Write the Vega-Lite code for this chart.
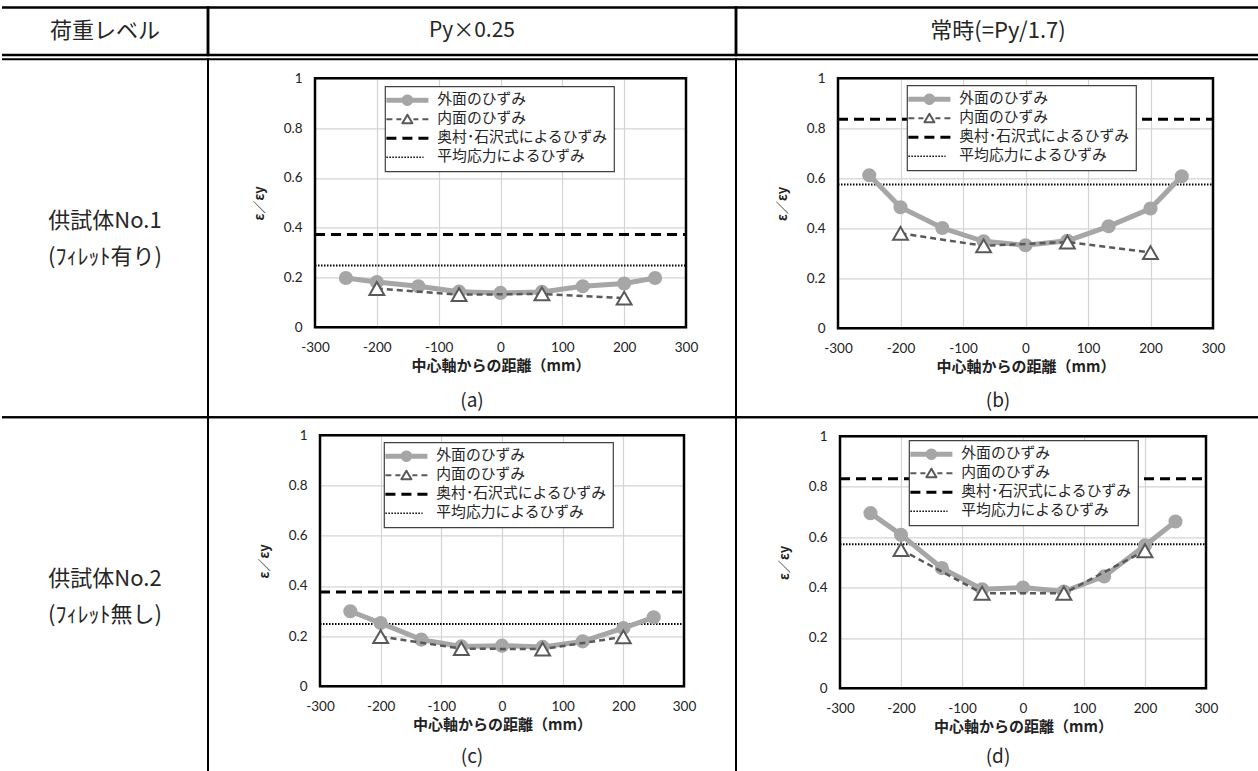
{
  "$schema": "https://vega.github.io/schema/vega-lite/v6.json",
  "padding": {"left": 0, "top": 5.5, "right": 0, "bottom": 0},
  "background": "white",
  "config": {"view": {"stroke": null}, "font": "Noto Sans CJK JP"},
  "datasets": {
    "hdr": [
      {"col": 0, "text": "荷重レベル"},
      {"col": 1, "text": "Py×0.25"},
      {"col": 2, "text": "常時(=Py/1.7)"}
    ],
    "lab": [
      {"row": 1, "text": "供試体No.1\n(ﾌｨﾚｯﾄ有り)"},
      {"row": 2, "text": "供試体No.2\n(ﾌｨﾚｯﾄ無し)"}
    ],
    "cap": [
      {"panel": "a", "text": "(a)"},
      {"panel": "b", "text": "(b)"},
      {"panel": "c", "text": "(c)"},
      {"panel": "d", "text": "(d)"}
    ],
    "ref": [
      {"panel": "a", "series": "奥村･石沢式によるひずみ", "y": 0.373},
      {"panel": "a", "series": "平均応力によるひずみ", "y": 0.248},
      {"panel": "b", "series": "奥村･石沢式によるひずみ", "y": 0.836},
      {"panel": "b", "series": "平均応力によるひずみ", "y": 0.575},
      {"panel": "c", "series": "奥村･石沢式によるひずみ", "y": 0.376},
      {"panel": "c", "series": "平均応力によるひずみ", "y": 0.248},
      {"panel": "d", "series": "奥村･石沢式によるひずみ", "y": 0.832},
      {"panel": "d", "series": "平均応力によるひずみ", "y": 0.572}
    ],
    "pts": [
      {"panel": "a", "series": "外面のひずみ", "x": -250, "y": 0.198},
      {"panel": "a", "series": "外面のひずみ", "x": -200, "y": 0.182},
      {"panel": "a", "series": "外面のひずみ", "x": -133, "y": 0.165},
      {"panel": "a", "series": "外面のひずみ", "x": -67, "y": 0.143},
      {"panel": "a", "series": "外面のひずみ", "x": 0, "y": 0.138},
      {"panel": "a", "series": "外面のひずみ", "x": 67, "y": 0.142},
      {"panel": "a", "series": "外面のひずみ", "x": 133, "y": 0.165},
      {"panel": "a", "series": "外面のひずみ", "x": 200, "y": 0.176},
      {"panel": "a", "series": "外面のひずみ", "x": 250, "y": 0.198},
      {"panel": "a", "series": "内面のひずみ", "x": -200, "y": 0.156},
      {"panel": "a", "series": "内面のひずみ", "x": -67, "y": 0.131},
      {"panel": "a", "series": "内面のひずみ", "x": 67, "y": 0.134},
      {"panel": "a", "series": "内面のひずみ", "x": 200, "y": 0.117},
      {"panel": "b", "series": "外面のひずみ", "x": -250, "y": 0.612},
      {"panel": "b", "series": "外面のひずみ", "x": -200, "y": 0.484},
      {"panel": "b", "series": "外面のひずみ", "x": -133, "y": 0.401},
      {"panel": "b", "series": "外面のひずみ", "x": -67, "y": 0.348},
      {"panel": "b", "series": "外面のひずみ", "x": 0, "y": 0.332},
      {"panel": "b", "series": "外面のひずみ", "x": 67, "y": 0.35},
      {"panel": "b", "series": "外面のひずみ", "x": 133, "y": 0.408},
      {"panel": "b", "series": "外面のひずみ", "x": 200, "y": 0.479},
      {"panel": "b", "series": "外面のひずみ", "x": 250, "y": 0.608},
      {"panel": "b", "series": "内面のひずみ", "x": -200, "y": 0.38},
      {"panel": "b", "series": "内面のひずみ", "x": -67, "y": 0.33},
      {"panel": "b", "series": "内面のひずみ", "x": 67, "y": 0.345},
      {"panel": "b", "series": "内面のひずみ", "x": 200, "y": 0.303},
      {"panel": "c", "series": "外面のひずみ", "x": -250, "y": 0.299},
      {"panel": "c", "series": "外面のひずみ", "x": -200, "y": 0.252},
      {"panel": "c", "series": "外面のひずみ", "x": -133, "y": 0.186},
      {"panel": "c", "series": "外面のひずみ", "x": -67, "y": 0.159},
      {"panel": "c", "series": "外面のひずみ", "x": 0, "y": 0.162},
      {"panel": "c", "series": "外面のひずみ", "x": 67, "y": 0.157},
      {"panel": "c", "series": "外面のひずみ", "x": 133, "y": 0.179},
      {"panel": "c", "series": "外面のひずみ", "x": 200, "y": 0.232},
      {"panel": "c", "series": "外面のひずみ", "x": 250, "y": 0.275},
      {"panel": "c", "series": "内面のひずみ", "x": -200, "y": 0.198},
      {"panel": "c", "series": "内面のひずみ", "x": -67, "y": 0.15},
      {"panel": "c", "series": "内面のひずみ", "x": 67, "y": 0.148},
      {"panel": "c", "series": "内面のひずみ", "x": 200, "y": 0.197},
      {"panel": "d", "series": "外面のひずみ", "x": -250, "y": 0.695},
      {"panel": "d", "series": "外面のひずみ", "x": -200, "y": 0.609},
      {"panel": "d", "series": "外面のひずみ", "x": -133, "y": 0.477},
      {"panel": "d", "series": "外面のひずみ", "x": -67, "y": 0.393},
      {"panel": "d", "series": "外面のひずみ", "x": 0, "y": 0.4},
      {"panel": "d", "series": "外面のひずみ", "x": 67, "y": 0.384},
      {"panel": "d", "series": "外面のひずみ", "x": 133, "y": 0.444},
      {"panel": "d", "series": "外面のひずみ", "x": 200, "y": 0.567},
      {"panel": "d", "series": "外面のひずみ", "x": 250, "y": 0.662},
      {"panel": "d", "series": "内面のひずみ", "x": -200, "y": 0.55},
      {"panel": "d", "series": "内面のひずみ", "x": -67, "y": 0.377},
      {"panel": "d", "series": "内面のひずみ", "x": 67, "y": 0.377},
      {"panel": "d", "series": "内面のひずみ", "x": 200, "y": 0.546}
    ]
  },
  "spacing": 1.8,
  "resolve": {"scale": {"color": "independent"}},
  "vconcat": [
    {
      "spacing": 0,
      "bounds": "flush",
      "hconcat": [
        {"width": 206, "height": 47.5, "view": {"stroke": "black", "strokeWidth": 2.5, "strokeDash": [459.5, 47.5]},
         "data": {"name": "hdr"}, "transform": [{"filter": "datum.col === 0"}],
         "mark": {"type": "text", "font": "Noto Sans CJK JP", "fontSize": 22, "color": "#262626"},
         "encoding": {"text": {"field": "text"}}},
        {"width": 528, "height": 47.5, "view": {"stroke": "black", "strokeWidth": 2.5},
         "data": {"name": "hdr"}, "transform": [{"filter": "datum.col === 1"}],
         "mark": {"type": "text", "font": "Noto Sans CJK JP", "fontSize": 21, "color": "#262626"},
         "encoding": {"text": {"field": "text"}}},
        {"width": 524, "height": 47.5, "view": {"stroke": "black", "strokeWidth": 2.5},
         "data": {"name": "hdr"}, "transform": [{"filter": "datum.col === 2"}],
         "mark": {"type": "text", "font": "Noto Sans CJK JP", "fontSize": 22, "color": "#262626"},
         "encoding": {"text": {"field": "text"}}}
      ]
    },
    {
      "columns": 3,
      "spacing": 0,
      "bounds": "flush",
      "resolve": {"scale": {"color": "independent"}},
      "concat": [
        {"width": 206, "height": 358, "view": {"stroke": "black", "strokeWidth": 2, "strokeDash": [770, 358]},
         "data": {"name": "lab"}, "transform": [{"filter": "datum.row === 1"}],
         "mark": {"type": "text", "font": "Noto Sans CJK JP", "fontSize": 22, "color": "#262626", "lineBreak": "\n", "lineHeight": 36, "dy": -17},
         "encoding": {"text": {"field": "text"}}},
        {
          "width": 528, "height": 358, "view": {"stroke": "black", "strokeWidth": 2},
          "resolve": {"axis": {"x": "independent", "y": "independent"}},
          "layer": [
            {"data": {"name": "ref"}, "transform": [{"filter": "datum.panel === 'a' && datum.series === '奥村･石沢式によるひずみ'"}],
             "mark": {"type": "rect", "filled": false, "stroke": "black", "strokeWidth": 2.5},
             "encoding": {
               "x": {"datum": -300, "type": "quantitative", "scale": {"domain": [-300, 300], "range": [107, 478], "nice": false, "zero": false},
                     "axis": {"orient": "top", "values": [-200, -100, 0, 100, 200], "grid": true, "gridColor": "#d4d4d4", "gridWidth": 1.2, "labels": false, "ticks": false, "domain": false, "title": null}},
               "x2": {"datum": 300},
               "y": {"datum": 0, "type": "quantitative", "scale": {"domain": [0, 1], "range": [268, 19], "nice": false, "zero": false},
                     "axis": {"orient": "left", "offset": -107, "values": [0, 0.2, 0.4, 0.6, 0.8, 1], "labelExpr": "'' + datum.value", "grid": true, "gridColor": "#d4d4d4", "gridWidth": 1.2, "ticks": false, "domain": false, "labelFont": "Lato", "labelFontSize": 13.5, "labelColor": "#222", "labelPadding": 13, "title": "ε／εy", "titleFont": "Noto Sans CJK JP", "titleFontSize": 13, "titleFontWeight": "bold", "titleColor": "#222", "titlePadding": 17}},
               "y2": {"datum": 1}
             }},
            {"data": {"name": "ref"}, "transform": [{"filter": "datum.panel === 'a' && datum.series === '平均応力によるひずみ'"}],
             "mark": {"type": "rule", "stroke": "black", "strokeWidth": 2, "strokeDash": [1.5, 1.5]},
             "encoding": {"x": {"datum": -300, "type": "quantitative", "axis": null}, "x2": {"datum": 300}, "y": {"field": "y", "type": "quantitative", "axis": null}}},
            {"data": {"name": "ref"}, "transform": [{"filter": "datum.panel === 'a' && datum.series === '奥村･石沢式によるひずみ'"}],
             "mark": {"type": "rule", "stroke": "black", "strokeWidth": 3, "strokeDash": [10, 6]},
             "encoding": {"x": {"datum": -300, "type": "quantitative", "axis": null}, "x2": {"datum": 300}, "y": {"field": "y", "type": "quantitative", "axis": null}}},
            {"data": {"name": "pts"}, "transform": [{"filter": "datum.panel === 'a' && datum.series === '外面のひずみ'"}],
             "mark": {"type": "line", "strokeWidth": 5},
             "encoding": {
               "x": {"field": "x", "type": "quantitative", "axis": null},
               "y": {"field": "y", "type": "quantitative", "axis": null},
               "color": {"field": "series", "type": "nominal",
                 "scale": {"domain": ["外面のひずみ", "内面のひずみ", "奥村･石沢式によるひずみ", "平均応力によるひずみ"], "range": ["#a6a6a6", "#595959", "#000000", "#000000"]},
                 "legend": {"orient": "none", "legendX": 177, "legendY": 27, "title": null, "direction": "vertical", "fillColor": "white", "strokeColor": "#404040", "padding": 6.5, "rowPadding": 3, "symbolSize": 320, "symbolOffset": 8.5, "labelOffset": 22.5, "labelFont": "Noto Sans CJK JP", "labelFontSize": 14.8, "labelColor": "#262626", "labelLimit": 300, "zindex": 1,
                   "encode": {
                     "legend": {"update": {"strokeWidth": {"value": 1.2}}},
                     "symbols": {"update": {
                     "shape": {"signal": "datum.value === '外面のひずみ' ? 'M-2.35,0H2.35M0.37,0L0.32,0.185L0.185,0.32L0,0.37L-0.185,0.32L-0.32,0.185L-0.37,0L-0.32,-0.185L-0.185,-0.32L0,-0.37L0.185,-0.32L0.32,-0.185Z' : datum.value === '内面のひずみ' ? 'M-2.35,0H-1.68M-1.23,0H-0.67M0.67,0H1.23M1.68,0H2.35M0,-0.5L0.56,0.45L-0.56,0.45Z' : datum.value === '奥村･石沢式によるひずみ' ? 'M-2.35,0H-1.23M-0.56,0H0.56M1.23,0H2.35' : 'M-2.35,0H1.8'"},
                     "fill": {"signal": "datum.value === '外面のひずみ' ? '#a6a6a6' : datum.value === '内面のひずみ' ? 'white' : 'transparent'"},
                     "stroke": {"signal": "datum.value === '外面のひずみ' ? '#a6a6a6' : datum.value === '内面のひずみ' ? '#595959' : 'black'"},
                     "strokeWidth": {"signal": "datum.value === '外面のひずみ' ? 5 : datum.value === '奥村･石沢式によるひずみ' ? 3 : datum.value === '内面のひずみ' ? 2 : 1.5"},
                     "strokeDash": {"signal": "datum.value === '平均応力によるひずみ' ? [1.5, 1.5] : []"},
                     "strokeJoin": {"value": "round"},
                     "size": {"value": 320},
                     "opacity": {"value": 1}
                   }}}}}
             }},
            {"data": {"name": "pts"}, "transform": [{"filter": "datum.panel === 'a' && datum.series === '外面のひずみ'"}],
             "mark": {"type": "point", "shape": "circle", "filled": true, "size": 200, "color": "#a6a6a6", "opacity": 1},
             "encoding": {
               "x": {"field": "x", "type": "quantitative",
                     "axis": {"orient": "bottom", "offset": -90, "values": [-300, -200, -100, 0, 100, 200, 300], "labelExpr": "'' + datum.value", "grid": false, "ticks": false, "domain": false, "labelFont": "Lato", "labelFontSize": 13.5, "labelColor": "#222", "labelPadding": 13, "labelFlush": false, "labelOverlap": false, "title": "中心軸からの距離（mm）", "titleFont": "Noto Sans CJK JP", "titleFontSize": 15, "titleFontWeight": "bold", "titleColor": "#222", "titlePadding": 5}},
               "y": {"field": "y", "type": "quantitative", "axis": null}
             }},
            {"data": {"name": "pts"}, "transform": [{"filter": "datum.panel === 'a' && datum.series === '内面のひずみ'"}],
             "mark": {"type": "line", "stroke": "#595959", "strokeWidth": 2.5, "strokeDash": [6, 4]},
             "encoding": {"x": {"field": "x", "type": "quantitative", "axis": null}, "y": {"field": "y", "type": "quantitative", "axis": null}}},
            {"data": {"name": "pts"}, "transform": [{"filter": "datum.panel === 'a' && datum.series === '内面のひずみ'"}],
             "mark": {"type": "point", "shape": "triangle-up", "filled": true, "fill": "white", "stroke": "#595959", "strokeWidth": 2, "size": 220, "opacity": 1},
             "encoding": {"x": {"field": "x", "type": "quantitative", "axis": null}, "y": {"field": "y", "type": "quantitative", "axis": null}}},
            {"data": {"name": "cap"}, "transform": [{"filter": "datum.panel === 'a'"}],
             "mark": {"type": "text", "font": "Noto Sans CJK JP", "fontSize": 19, "color": "#262626"},
             "encoding": {"text": {"field": "text"}, "y": {"datum": -0.297, "type": "quantitative", "axis": null}}}
          ]
        },
        {
          "width": 524, "height": 358, "view": {"stroke": "black", "strokeWidth": 2},
          "resolve": {"axis": {"x": "independent", "y": "independent"}},
          "layer": [
            {"data": {"name": "ref"}, "transform": [{"filter": "datum.panel === 'b' && datum.series === '奥村･石沢式によるひずみ'"}],
             "mark": {"type": "rect", "filled": false, "stroke": "black", "strokeWidth": 2.5},
             "encoding": {
               "x": {"datum": -300, "type": "quantitative", "scale": {"domain": [-300, 300], "range": [102, 477], "nice": false, "zero": false},
                     "axis": {"orient": "top", "values": [-200, -100, 0, 100, 200], "grid": true, "gridColor": "#d4d4d4", "gridWidth": 1.2, "labels": false, "ticks": false, "domain": false, "title": null}},
               "x2": {"datum": 300},
               "y": {"datum": 0, "type": "quantitative", "scale": {"domain": [0, 1], "range": [269, 19], "nice": false, "zero": false},
                     "axis": {"orient": "left", "offset": -102, "values": [0, 0.2, 0.4, 0.6, 0.8, 1], "labelExpr": "'' + datum.value", "grid": true, "gridColor": "#d4d4d4", "gridWidth": 1.2, "ticks": false, "domain": false, "labelFont": "Lato", "labelFontSize": 13.5, "labelColor": "#222", "labelPadding": 13, "title": "ε／εy", "titleFont": "Noto Sans CJK JP", "titleFontSize": 13, "titleFontWeight": "bold", "titleColor": "#222", "titlePadding": 17}},
               "y2": {"datum": 1}
             }},
            {"data": {"name": "ref"}, "transform": [{"filter": "datum.panel === 'b' && datum.series === '平均応力によるひずみ'"}],
             "mark": {"type": "rule", "stroke": "black", "strokeWidth": 2, "strokeDash": [1.5, 1.5]},
             "encoding": {"x": {"datum": -300, "type": "quantitative", "axis": null}, "x2": {"datum": 300}, "y": {"field": "y", "type": "quantitative", "axis": null}}},
            {"data": {"name": "ref"}, "transform": [{"filter": "datum.panel === 'b' && datum.series === '奥村･石沢式によるひずみ'"}],
             "mark": {"type": "rule", "stroke": "black", "strokeWidth": 3, "strokeDash": [10, 6]},
             "encoding": {"x": {"datum": -300, "type": "quantitative", "axis": null}, "x2": {"datum": 300}, "y": {"field": "y", "type": "quantitative", "axis": null}}},
            {"data": {"name": "pts"}, "transform": [{"filter": "datum.panel === 'b' && datum.series === '外面のひずみ'"}],
             "mark": {"type": "line", "strokeWidth": 5},
             "encoding": {
               "x": {"field": "x", "type": "quantitative", "axis": null},
               "y": {"field": "y", "type": "quantitative", "axis": null},
               "color": {"field": "series", "type": "nominal",
                 "scale": {"domain": ["外面のひずみ", "内面のひずみ", "奥村･石沢式によるひずみ", "平均応力によるひずみ"], "range": ["#a6a6a6", "#595959", "#000000", "#000000"]},
                 "legend": {"orient": "none", "legendX": 171, "legendY": 26, "title": null, "direction": "vertical", "fillColor": "white", "strokeColor": "#404040", "padding": 6.5, "rowPadding": 3, "symbolSize": 320, "symbolOffset": 8.5, "labelOffset": 22.5, "labelFont": "Noto Sans CJK JP", "labelFontSize": 14.8, "labelColor": "#262626", "labelLimit": 300, "zindex": 1,
                   "encode": {
                     "legend": {"update": {"strokeWidth": {"value": 1.2}}},
                     "symbols": {"update": {
                     "shape": {"signal": "datum.value === '外面のひずみ' ? 'M-2.35,0H2.35M0.37,0L0.32,0.185L0.185,0.32L0,0.37L-0.185,0.32L-0.32,0.185L-0.37,0L-0.32,-0.185L-0.185,-0.32L0,-0.37L0.185,-0.32L0.32,-0.185Z' : datum.value === '内面のひずみ' ? 'M-2.35,0H-1.68M-1.23,0H-0.67M0.67,0H1.23M1.68,0H2.35M0,-0.5L0.56,0.45L-0.56,0.45Z' : datum.value === '奥村･石沢式によるひずみ' ? 'M-2.35,0H-1.23M-0.56,0H0.56M1.23,0H2.35' : 'M-2.35,0H1.8'"},
                     "fill": {"signal": "datum.value === '外面のひずみ' ? '#a6a6a6' : datum.value === '内面のひずみ' ? 'white' : 'transparent'"},
                     "stroke": {"signal": "datum.value === '外面のひずみ' ? '#a6a6a6' : datum.value === '内面のひずみ' ? '#595959' : 'black'"},
                     "strokeWidth": {"signal": "datum.value === '外面のひずみ' ? 5 : datum.value === '奥村･石沢式によるひずみ' ? 3 : datum.value === '内面のひずみ' ? 2 : 1.5"},
                     "strokeDash": {"signal": "datum.value === '平均応力によるひずみ' ? [1.5, 1.5] : []"},
                     "strokeJoin": {"value": "round"},
                     "size": {"value": 320},
                     "opacity": {"value": 1}
                   }}}}}
             }},
            {"data": {"name": "pts"}, "transform": [{"filter": "datum.panel === 'b' && datum.series === '外面のひずみ'"}],
             "mark": {"type": "point", "shape": "circle", "filled": true, "size": 200, "color": "#a6a6a6", "opacity": 1},
             "encoding": {
               "x": {"field": "x", "type": "quantitative",
                     "axis": {"orient": "bottom", "offset": -89, "values": [-300, -200, -100, 0, 100, 200, 300], "labelExpr": "'' + datum.value", "grid": false, "ticks": false, "domain": false, "labelFont": "Lato", "labelFontSize": 13.5, "labelColor": "#222", "labelPadding": 13, "labelFlush": false, "labelOverlap": false, "title": "中心軸からの距離（mm）", "titleFont": "Noto Sans CJK JP", "titleFontSize": 15, "titleFontWeight": "bold", "titleColor": "#222", "titlePadding": 5}},
               "y": {"field": "y", "type": "quantitative", "axis": null}
             }},
            {"data": {"name": "pts"}, "transform": [{"filter": "datum.panel === 'b' && datum.series === '内面のひずみ'"}],
             "mark": {"type": "line", "stroke": "#595959", "strokeWidth": 2.5, "strokeDash": [6, 4]},
             "encoding": {"x": {"field": "x", "type": "quantitative", "axis": null}, "y": {"field": "y", "type": "quantitative", "axis": null}}},
            {"data": {"name": "pts"}, "transform": [{"filter": "datum.panel === 'b' && datum.series === '内面のひずみ'"}],
             "mark": {"type": "point", "shape": "triangle-up", "filled": true, "fill": "white", "stroke": "#595959", "strokeWidth": 2, "size": 220, "opacity": 1},
             "encoding": {"x": {"field": "x", "type": "quantitative", "axis": null}, "y": {"field": "y", "type": "quantitative", "axis": null}}},
            {"data": {"name": "cap"}, "transform": [{"filter": "datum.panel === 'b'"}],
             "mark": {"type": "text", "font": "Noto Sans CJK JP", "fontSize": 19, "color": "#262626"},
             "encoding": {"text": {"field": "text"}, "y": {"datum": -0.292, "type": "quantitative", "axis": null}}}
          ]
        },
        {"width": 206, "height": 358, "view": {"stroke": "black", "strokeWidth": 2, "strokeDash": [770, 358]},
         "data": {"name": "lab"}, "transform": [{"filter": "datum.row === 2"}],
         "mark": {"type": "text", "font": "Noto Sans CJK JP", "fontSize": 22, "color": "#262626", "lineBreak": "\n", "lineHeight": 36, "dy": -17},
         "encoding": {"text": {"field": "text"}}},
        {
          "width": 528, "height": 358, "view": {"stroke": "black", "strokeWidth": 2},
          "resolve": {"axis": {"x": "independent", "y": "independent"}},
          "layer": [
            {"data": {"name": "ref"}, "transform": [{"filter": "datum.panel === 'c' && datum.series === '奥村･石沢式によるひずみ'"}],
             "mark": {"type": "rect", "filled": false, "stroke": "black", "strokeWidth": 2.5},
             "encoding": {
               "x": {"datum": -300, "type": "quantitative", "scale": {"domain": [-300, 300], "range": [112, 476], "nice": false, "zero": false},
                     "axis": {"orient": "top", "values": [-200, -100, 0, 100, 200], "grid": true, "gridColor": "#d4d4d4", "gridWidth": 1.2, "labels": false, "ticks": false, "domain": false, "title": null}},
               "x2": {"datum": 300},
               "y": {"datum": 0, "type": "quantitative", "scale": {"domain": [0, 1], "range": [269, 18], "nice": false, "zero": false},
                     "axis": {"orient": "left", "offset": -112, "values": [0, 0.2, 0.4, 0.6, 0.8, 1], "labelExpr": "'' + datum.value", "grid": true, "gridColor": "#d4d4d4", "gridWidth": 1.2, "ticks": false, "domain": false, "labelFont": "Lato", "labelFontSize": 13.5, "labelColor": "#222", "labelPadding": 13, "title": "ε／εy", "titleFont": "Noto Sans CJK JP", "titleFontSize": 13, "titleFontWeight": "bold", "titleColor": "#222", "titlePadding": 17}},
               "y2": {"datum": 1}
             }},
            {"data": {"name": "ref"}, "transform": [{"filter": "datum.panel === 'c' && datum.series === '平均応力によるひずみ'"}],
             "mark": {"type": "rule", "stroke": "black", "strokeWidth": 2, "strokeDash": [1.5, 1.5]},
             "encoding": {"x": {"datum": -300, "type": "quantitative", "axis": null}, "x2": {"datum": 300}, "y": {"field": "y", "type": "quantitative", "axis": null}}},
            {"data": {"name": "ref"}, "transform": [{"filter": "datum.panel === 'c' && datum.series === '奥村･石沢式によるひずみ'"}],
             "mark": {"type": "rule", "stroke": "black", "strokeWidth": 3, "strokeDash": [10, 6]},
             "encoding": {"x": {"datum": -300, "type": "quantitative", "axis": null}, "x2": {"datum": 300}, "y": {"field": "y", "type": "quantitative", "axis": null}}},
            {"data": {"name": "pts"}, "transform": [{"filter": "datum.panel === 'c' && datum.series === '外面のひずみ'"}],
             "mark": {"type": "line", "strokeWidth": 5},
             "encoding": {
               "x": {"field": "x", "type": "quantitative", "axis": null},
               "y": {"field": "y", "type": "quantitative", "axis": null},
               "color": {"field": "series", "type": "nominal",
                 "scale": {"domain": ["外面のひずみ", "内面のひずみ", "奥村･石沢式によるひずみ", "平均応力によるひずみ"], "range": ["#a6a6a6", "#595959", "#000000", "#000000"]},
                 "legend": {"orient": "none", "legendX": 176, "legendY": 25, "title": null, "direction": "vertical", "fillColor": "white", "strokeColor": "#404040", "padding": 6.5, "rowPadding": 3, "symbolSize": 320, "symbolOffset": 8.5, "labelOffset": 22.5, "labelFont": "Noto Sans CJK JP", "labelFontSize": 14.8, "labelColor": "#262626", "labelLimit": 300, "zindex": 1,
                   "encode": {
                     "legend": {"update": {"strokeWidth": {"value": 1.2}}},
                     "symbols": {"update": {
                     "shape": {"signal": "datum.value === '外面のひずみ' ? 'M-2.35,0H2.35M0.37,0L0.32,0.185L0.185,0.32L0,0.37L-0.185,0.32L-0.32,0.185L-0.37,0L-0.32,-0.185L-0.185,-0.32L0,-0.37L0.185,-0.32L0.32,-0.185Z' : datum.value === '内面のひずみ' ? 'M-2.35,0H-1.68M-1.23,0H-0.67M0.67,0H1.23M1.68,0H2.35M0,-0.5L0.56,0.45L-0.56,0.45Z' : datum.value === '奥村･石沢式によるひずみ' ? 'M-2.35,0H-1.23M-0.56,0H0.56M1.23,0H2.35' : 'M-2.35,0H1.8'"},
                     "fill": {"signal": "datum.value === '外面のひずみ' ? '#a6a6a6' : datum.value === '内面のひずみ' ? 'white' : 'transparent'"},
                     "stroke": {"signal": "datum.value === '外面のひずみ' ? '#a6a6a6' : datum.value === '内面のひずみ' ? '#595959' : 'black'"},
                     "strokeWidth": {"signal": "datum.value === '外面のひずみ' ? 5 : datum.value === '奥村･石沢式によるひずみ' ? 3 : datum.value === '内面のひずみ' ? 2 : 1.5"},
                     "strokeDash": {"signal": "datum.value === '平均応力によるひずみ' ? [1.5, 1.5] : []"},
                     "strokeJoin": {"value": "round"},
                     "size": {"value": 320},
                     "opacity": {"value": 1}
                   }}}}}
             }},
            {"data": {"name": "pts"}, "transform": [{"filter": "datum.panel === 'c' && datum.series === '外面のひずみ'"}],
             "mark": {"type": "point", "shape": "circle", "filled": true, "size": 200, "color": "#a6a6a6", "opacity": 1},
             "encoding": {
               "x": {"field": "x", "type": "quantitative",
                     "axis": {"orient": "bottom", "offset": -89, "values": [-300, -200, -100, 0, 100, 200, 300], "labelExpr": "'' + datum.value", "grid": false, "ticks": false, "domain": false, "labelFont": "Lato", "labelFontSize": 13.5, "labelColor": "#222", "labelPadding": 13, "labelFlush": false, "labelOverlap": false, "title": "中心軸からの距離（mm）", "titleFont": "Noto Sans CJK JP", "titleFontSize": 15, "titleFontWeight": "bold", "titleColor": "#222", "titlePadding": 5}},
               "y": {"field": "y", "type": "quantitative", "axis": null}
             }},
            {"data": {"name": "pts"}, "transform": [{"filter": "datum.panel === 'c' && datum.series === '内面のひずみ'"}],
             "mark": {"type": "line", "stroke": "#595959", "strokeWidth": 2.5, "strokeDash": [6, 4]},
             "encoding": {"x": {"field": "x", "type": "quantitative", "axis": null}, "y": {"field": "y", "type": "quantitative", "axis": null}}},
            {"data": {"name": "pts"}, "transform": [{"filter": "datum.panel === 'c' && datum.series === '内面のひずみ'"}],
             "mark": {"type": "point", "shape": "triangle-up", "filled": true, "fill": "white", "stroke": "#595959", "strokeWidth": 2, "size": 220, "opacity": 1},
             "encoding": {"x": {"field": "x", "type": "quantitative", "axis": null}, "y": {"field": "y", "type": "quantitative", "axis": null}}},
            {"data": {"name": "cap"}, "transform": [{"filter": "datum.panel === 'c'"}],
             "mark": {"type": "text", "font": "Noto Sans CJK JP", "fontSize": 19, "color": "#262626"},
             "encoding": {"text": {"field": "text"}, "y": {"datum": -0.281, "type": "quantitative", "axis": null}}}
          ]
        },
        {
          "width": 524, "height": 358, "view": {"stroke": "black", "strokeWidth": 2},
          "resolve": {"axis": {"x": "independent", "y": "independent"}},
          "layer": [
            {"data": {"name": "ref"}, "transform": [{"filter": "datum.panel === 'd' && datum.series === '奥村･石沢式によるひずみ'"}],
             "mark": {"type": "rect", "filled": false, "stroke": "black", "strokeWidth": 2.5},
             "encoding": {
               "x": {"datum": -300, "type": "quantitative", "scale": {"domain": [-300, 300], "range": [104, 470], "nice": false, "zero": false},
                     "axis": {"orient": "top", "values": [-200, -100, 0, 100, 200], "grid": true, "gridColor": "#d4d4d4", "gridWidth": 1.2, "labels": false, "ticks": false, "domain": false, "title": null}},
               "x2": {"datum": 300},
               "y": {"datum": 0, "type": "quantitative", "scale": {"domain": [0, 1], "range": [271, 19], "nice": false, "zero": false},
                     "axis": {"orient": "left", "offset": -104, "values": [0, 0.2, 0.4, 0.6, 0.8, 1], "labelExpr": "'' + datum.value", "grid": true, "gridColor": "#d4d4d4", "gridWidth": 1.2, "ticks": false, "domain": false, "labelFont": "Lato", "labelFontSize": 13.5, "labelColor": "#222", "labelPadding": 13, "title": "ε／εy", "titleFont": "Noto Sans CJK JP", "titleFontSize": 13, "titleFontWeight": "bold", "titleColor": "#222", "titlePadding": 17}},
               "y2": {"datum": 1}
             }},
            {"data": {"name": "ref"}, "transform": [{"filter": "datum.panel === 'd' && datum.series === '平均応力によるひずみ'"}],
             "mark": {"type": "rule", "stroke": "black", "strokeWidth": 2, "strokeDash": [1.5, 1.5]},
             "encoding": {"x": {"datum": -300, "type": "quantitative", "axis": null}, "x2": {"datum": 300}, "y": {"field": "y", "type": "quantitative", "axis": null}}},
            {"data": {"name": "ref"}, "transform": [{"filter": "datum.panel === 'd' && datum.series === '奥村･石沢式によるひずみ'"}],
             "mark": {"type": "rule", "stroke": "black", "strokeWidth": 3, "strokeDash": [10, 6]},
             "encoding": {"x": {"datum": -300, "type": "quantitative", "axis": null}, "x2": {"datum": 300}, "y": {"field": "y", "type": "quantitative", "axis": null}}},
            {"data": {"name": "pts"}, "transform": [{"filter": "datum.panel === 'd' && datum.series === '外面のひずみ'"}],
             "mark": {"type": "line", "strokeWidth": 5},
             "encoding": {
               "x": {"field": "x", "type": "quantitative", "axis": null},
               "y": {"field": "y", "type": "quantitative", "axis": null},
               "color": {"field": "series", "type": "nominal",
                 "scale": {"domain": ["外面のひずみ", "内面のひずみ", "奥村･石沢式によるひずみ", "平均応力によるひずみ"], "range": ["#a6a6a6", "#595959", "#000000", "#000000"]},
                 "legend": {"orient": "none", "legendX": 173, "legendY": 23, "title": null, "direction": "vertical", "fillColor": "white", "strokeColor": "#404040", "padding": 6.5, "rowPadding": 3, "symbolSize": 320, "symbolOffset": 8.5, "labelOffset": 22.5, "labelFont": "Noto Sans CJK JP", "labelFontSize": 14.8, "labelColor": "#262626", "labelLimit": 300, "zindex": 1,
                   "encode": {
                     "legend": {"update": {"strokeWidth": {"value": 1.2}}},
                     "symbols": {"update": {
                     "shape": {"signal": "datum.value === '外面のひずみ' ? 'M-2.35,0H2.35M0.37,0L0.32,0.185L0.185,0.32L0,0.37L-0.185,0.32L-0.32,0.185L-0.37,0L-0.32,-0.185L-0.185,-0.32L0,-0.37L0.185,-0.32L0.32,-0.185Z' : datum.value === '内面のひずみ' ? 'M-2.35,0H-1.68M-1.23,0H-0.67M0.67,0H1.23M1.68,0H2.35M0,-0.5L0.56,0.45L-0.56,0.45Z' : datum.value === '奥村･石沢式によるひずみ' ? 'M-2.35,0H-1.23M-0.56,0H0.56M1.23,0H2.35' : 'M-2.35,0H1.8'"},
                     "fill": {"signal": "datum.value === '外面のひずみ' ? '#a6a6a6' : datum.value === '内面のひずみ' ? 'white' : 'transparent'"},
                     "stroke": {"signal": "datum.value === '外面のひずみ' ? '#a6a6a6' : datum.value === '内面のひずみ' ? '#595959' : 'black'"},
                     "strokeWidth": {"signal": "datum.value === '外面のひずみ' ? 5 : datum.value === '奥村･石沢式によるひずみ' ? 3 : datum.value === '内面のひずみ' ? 2 : 1.5"},
                     "strokeDash": {"signal": "datum.value === '平均応力によるひずみ' ? [1.5, 1.5] : []"},
                     "strokeJoin": {"value": "round"},
                     "size": {"value": 320},
                     "opacity": {"value": 1}
                   }}}}}
             }},
            {"data": {"name": "pts"}, "transform": [{"filter": "datum.panel === 'd' && datum.series === '外面のひずみ'"}],
             "mark": {"type": "point", "shape": "circle", "filled": true, "size": 200, "color": "#a6a6a6", "opacity": 1},
             "encoding": {
               "x": {"field": "x", "type": "quantitative",
                     "axis": {"orient": "bottom", "offset": -87, "values": [-300, -200, -100, 0, 100, 200, 300], "labelExpr": "'' + datum.value", "grid": false, "ticks": false, "domain": false, "labelFont": "Lato", "labelFontSize": 13.5, "labelColor": "#222", "labelPadding": 13, "labelFlush": false, "labelOverlap": false, "title": "中心軸からの距離（mm）", "titleFont": "Noto Sans CJK JP", "titleFontSize": 15, "titleFontWeight": "bold", "titleColor": "#222", "titlePadding": 5}},
               "y": {"field": "y", "type": "quantitative", "axis": null}
             }},
            {"data": {"name": "pts"}, "transform": [{"filter": "datum.panel === 'd' && datum.series === '内面のひずみ'"}],
             "mark": {"type": "line", "stroke": "#595959", "strokeWidth": 2.5, "strokeDash": [6, 4]},
             "encoding": {"x": {"field": "x", "type": "quantitative", "axis": null}, "y": {"field": "y", "type": "quantitative", "axis": null}}},
            {"data": {"name": "pts"}, "transform": [{"filter": "datum.panel === 'd' && datum.series === '内面のひずみ'"}],
             "mark": {"type": "point", "shape": "triangle-up", "filled": true, "fill": "white", "stroke": "#595959", "strokeWidth": 2, "size": 220, "opacity": 1},
             "encoding": {"x": {"field": "x", "type": "quantitative", "axis": null}, "y": {"field": "y", "type": "quantitative", "axis": null}}},
            {"data": {"name": "cap"}, "transform": [{"filter": "datum.panel === 'd'"}],
             "mark": {"type": "text", "font": "Noto Sans CJK JP", "fontSize": 19, "color": "#262626"},
             "encoding": {"text": {"field": "text"}, "y": {"datum": -0.272, "type": "quantitative", "axis": null}}}
          ]
        }
      ]
    }
  ]
}
